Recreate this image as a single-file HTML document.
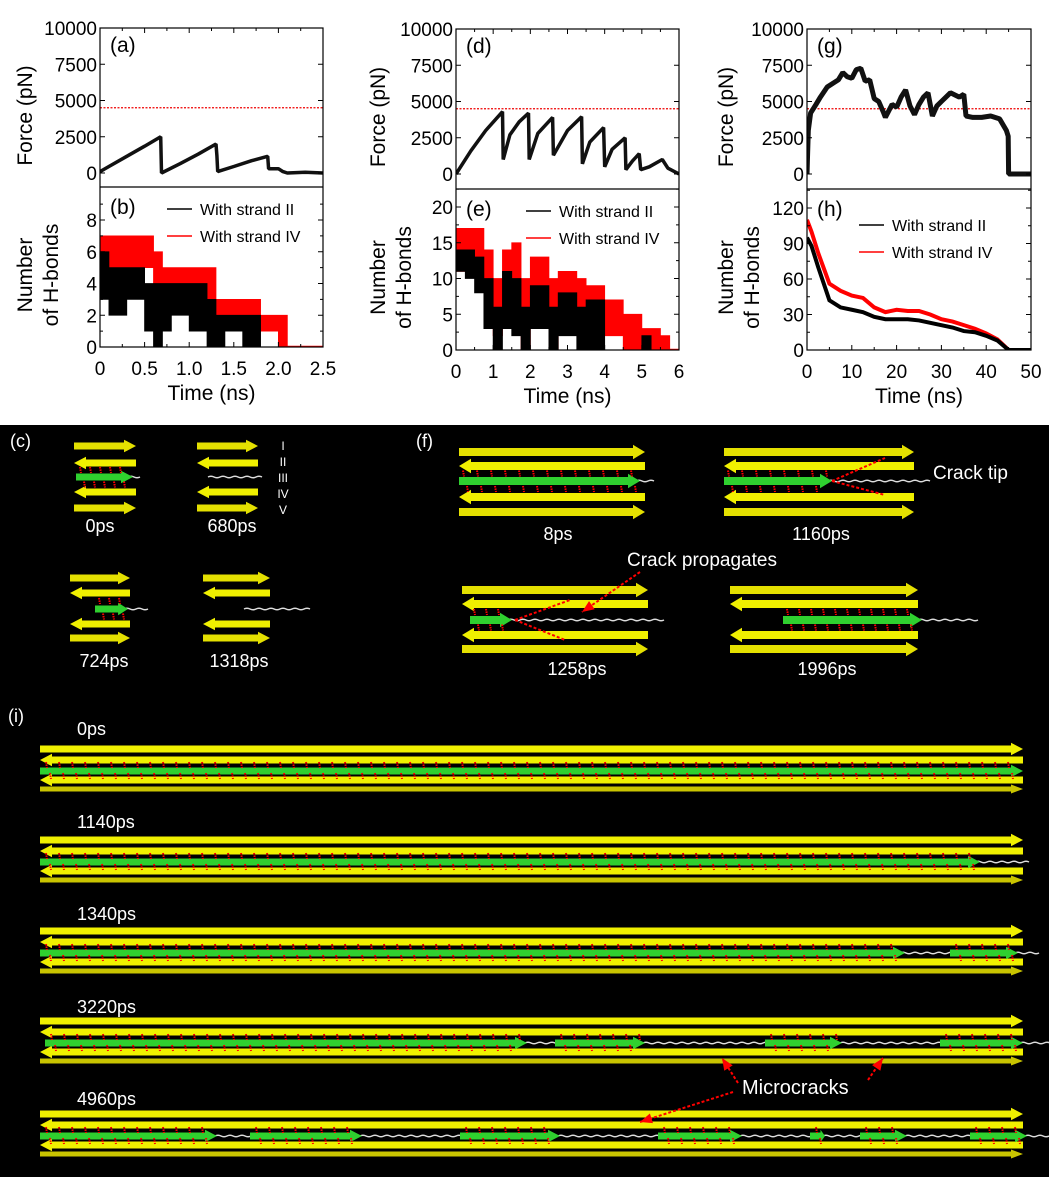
<!DOCTYPE html>
<html><head><meta charset="utf-8"><style>
html,body{margin:0;padding:0;background:#fff}
svg{display:block;font-family:"Liberation Sans",Arial,sans-serif}
</style></head><body>
<svg id="fig" width="1049" height="1177" viewBox="0 0 1049 1177" xmlns="http://www.w3.org/2000/svg">
<rect x="0" y="0" width="1049" height="425" fill="#fff"/>
<rect x="0" y="425" width="1049" height="752" fill="#000"/>
<g id="charts"></g>
<g id="snaps"></g>
</svg>
<script>
// ---------- chart data ----------
const forceATime=[0,0.1,0.3,0.5,0.68,0.69,0.9,1.1,1.3,1.31,1.32,1.5,1.7,1.88,1.89,2.0,2.05,2.1,2.3,2.5];
const forceAVal=[100,450,1150,1850,2500,0,650,1300,2000,1200,100,450,850,1150,300,300,100,0,50,0];
const hbBTimes=[0,0.1,0.2,0.3,0.4,0.5,0.6,0.7,0.8,0.9,1.0,1.1,1.2,1.3,1.4,1.5,1.6,1.7,1.8,1.9,2.0,2.1,2.5];
const hbBRedHi=[7,7,7,7,7,7,6,5,5,5,5,5,5,3,3,3,3,3,2,2,2,0];
const hbBRedLo=[4,5,5,5,5,5,4,2,3,3,3,3,2,1,1,1,1,1,1,1,0,0];
const hbBBlackHi=[6,5,5,5,5,4,4,4,4,4,4,4,3,2,2,2,2,2,0,0,0,0];
const hbBBlackLo=[3,2,2,3,3,1,0,1,2,2,1,1,0,0,1,1,0,0,0,0,0,0];
const forceDTime=[0,0.4,0.8,1.25,1.27,1.45,1.7,1.95,1.97,2.2,2.6,2.62,3.0,3.38,3.4,3.6,3.97,4.0,4.2,4.55,4.57,4.75,4.93,4.97,5.2,5.55,5.7,6.0];
const forceDVal=[0,1600,3000,4300,1000,2700,3600,4200,1000,2800,3900,1300,3000,3950,700,2200,3200,500,1700,2500,300,900,1400,300,500,1000,400,0];
const hbETimes=[0,0.25,0.5,0.75,1,1.25,1.5,1.75,2,2.25,2.5,2.75,3,3.25,3.5,3.75,4,4.25,4.5,4.75,5,5.25,5.5,5.75,6];
const hbERedHi=[17,17,17,14,10,14,15,10,13,13,10,11,11,10,9,9,7,7,5,5,3,3,2,0];
const hbERedLo=[11,12,12,8,2,5,7,0,6,5,0,4,4,2,3,3,2,2,0,0,0,0,0,0];
const hbEBlackHi=[14,14,13,10,6,11,10,6,9,9,6,8,8,6,7,7,0,0,0,0,2,0,0,0];
const hbEBlackLo=[11,10,8,3,0,3,2,0,3,3,0,2,2,0,0,0,0,0,0,0,0,0,0,0];
const forceGTime=[0,0.3,0.8,2,3,4.5,6,7,8,9,10,11,12,13,14,15,16,17,17.5,19,20,21,22,23,24,25,26,27,28,29,30,32,34,35,35.5,37,39,41,43,44.5,44.9,45,47,50];
const forceGVal=[0,3000,4200,4800,5300,6000,6300,6500,7000,6700,6600,7200,7300,6400,6500,5200,5000,4300,3900,4800,4600,5300,5800,4700,4100,4800,5300,5600,4000,4700,5000,5600,5300,5500,4000,3900,3900,4000,3800,3000,2600,0,0,0];
const hbHTimes=[0,1,2.5,5,7.5,10,12.5,15,17.5,20,22.5,25,27.5,30,32.5,35,37.5,40,42.5,45,50];
const hbHRed=[110,100,82,56,50,46,44,36,32,34,33,33,30,26,24,21,18,14,9,0,0];
const hbHBlack=[95,88,70,42,36,34,32,28,26,26,26,25,23,21,19,16,15,12,8,0,0];
const forceTicks=[0,2500,5000,7500,10000];
const forceThreshold=4500;
const xTicksA=[0,0.5,1.0,1.5,2.0,2.5];
const xTicksD=[0,1,2,3,4,5,6];
const xTicksG=[0,10,20,30,40,50];
const yTicksB=[0,2,4,6,8];
const yTicksE=[0,5,10,15,20];
const yTicksH=[0,30,60,90,120];

const NS="http://www.w3.org/2000/svg";
function mk(parent,tag,attrs,text){const e=document.createElementNS(NS,tag);for(const k in attrs)e.setAttribute(k,attrs[k]);if(text!==undefined)e.textContent=text;parent.appendChild(e);return e;}
function lin(d0,d1,r0,r1){return v=>r0+(v-d0)/(d1-d0)*(r1-r0);}
const charts=document.getElementById('charts');

function panel(cfg){
  const g=mk(charts,'g',{});
  
  
  const X=lin(cfg.tmin,cfg.tmax,cfg.x0,cfg.x1);
  const FY=lin(0,10000,cfg.f0,cfg.f10k);
  const HY=lin(0,cfg.hRef,cfg.bot,cfg.hRefPx);
  const ttl=cfg.topPx,div=cfg.div,bot=cfg.bot;
  // clip paths
  const cid=cfg.name+'-clipF',cid2=cfg.name+'-clipH';
  const defs=mk(g,'defs',{});
  const c1=mk(defs,'clipPath',{id:cid});mk(c1,'rect',{x:cfg.x0,y:ttl,width:cfg.x1-cfg.x0,height:div-ttl});
  const c2=mk(defs,'clipPath',{id:cid2});mk(c2,'rect',{x:cfg.x0,y:div,width:cfg.x1-cfg.x0,height:bot-div});
  // force threshold
  const th=mk(g,'line',{x1:cfg.x0,x2:cfg.x1,y1:FY(forceThreshold),y2:FY(forceThreshold),stroke:'#e00','stroke-width':1.3,'stroke-dasharray':'2,1.5'});
  
  
  // force series
  let pts=cfg.fT.map((t,i)=>X(t).toFixed(1)+','+FY(cfg.fV[i]).toFixed(1)).join(' ');
  const fl=mk(g,'polyline',{points:pts,fill:'none',stroke:'#111','stroke-width':cfg.fw,'stroke-linejoin':'bevel','clip-path':'url(#'+cid+')'});
  
  
  // hbonds
  if(cfg.hMode==='band'){
    const band=(T,hi,lo,col,nm)=>{
      let up=[],dn=[];
      for(let i=0;i<hi.length;i++){up.push(X(T[i])+','+HY(hi[i]));up.push(X(T[i+1])+','+HY(hi[i]));}
      for(let i=lo.length-1;i>=0;i--){dn.push(X(T[i+1])+','+HY(lo[i]));dn.push(X(T[i])+','+HY(lo[i]));}
      const p=mk(g,'polygon',{points:up.concat(dn).join(' '),fill:col,stroke:col,'stroke-width':0.8,'clip-path':'url(#'+cid2+')'});
      
      
    };
    band(cfg.hT,cfg.rHi,cfg.rLo,'#f00','hbond-strand-iv');
    band(cfg.hT,cfg.bHi,cfg.bLo,'#000','hbond-strand-ii');
    const z=mk(g,'line',{x1:X(cfg.hEnd),x2:cfg.x1,y1:bot-0.5,y2:bot-0.5,stroke:'#f00','stroke-width':1.5});
    
    
  } else {
    const ln=(V,col,nm)=>{
      const p=mk(g,'polyline',{points:cfg.hT.map((t,i)=>X(t)+','+HY(V[i])).join(' '),fill:'none',stroke:col,'stroke-width':4,'clip-path':'url(#'+cid2+')'});
      
      
    };
    ln(cfg.rV,'#f00','hbond-strand-iv');
    ln(cfg.bV,'#000','hbond-strand-ii');
  }
  // frame
  mk(g,'rect',{x:cfg.x0,y:ttl,width:cfg.x1-cfg.x0,height:bot-ttl,fill:'none',stroke:'#000','stroke-width':1.2});
  mk(g,'line',{x1:cfg.x0,x2:cfg.x1,y1:div,y2:div,stroke:'#000','stroke-width':1.2});
  // x ticks
  const xs=cfg.xTicks;
  for(let i=0;i<xs.length;i++){
    const x=X(xs[i]);
    mk(g,'line',{x1:x,x2:x,y1:bot,y2:bot-5,stroke:'#000'});
    mk(g,'line',{x1:x,x2:x,y1:ttl,y2:ttl+5,stroke:'#000'});
    const tl=mk(g,'text',{x:x,y:bot+28,'font-size':19,'text-anchor':'middle'},cfg.xFmt(xs[i]));
    
    
    if(i<xs.length-1){const xm=X((xs[i]+xs[i+1])/2);
      mk(g,'line',{x1:xm,x2:xm,y1:bot,y2:bot-3,stroke:'#000'});mk(g,'line',{x1:xm,x2:xm,y1:ttl,y2:ttl+3,stroke:'#000'});}
  }
  // force ticks
  forceTicks.forEach(v=>{const y=FY(v);
    mk(g,'line',{x1:cfg.x0,x2:cfg.x0+5,y1:y,y2:y,stroke:'#000'});
    mk(g,'line',{x1:cfg.x1,x2:cfg.x1-5,y1:y,y2:y,stroke:'#000'});
    const tl=mk(g,'text',{x:cfg.x0-3,y:y+7,'font-size':19,'text-anchor':'end'},String(v));
    
    
  });
  // hbond ticks
  const ht=cfg.hTicks;
  ht.forEach((v,i)=>{const y=HY(v);
    mk(g,'line',{x1:cfg.x0,x2:cfg.x0+5,y1:y,y2:y,stroke:'#000'});
    mk(g,'line',{x1:cfg.x1,x2:cfg.x1-5,y1:y,y2:y,stroke:'#000'});
    const tl=mk(g,'text',{x:cfg.x0-3,y:y+7,'font-size':19,'text-anchor':'end'},String(v));
    
    
    const ym=HY(v+(ht[1]-ht[0])/2);
    if(ym>div){mk(g,'line',{x1:cfg.x0,x2:cfg.x0+3,y1:ym,y2:ym,stroke:'#000'});mk(g,'line',{x1:cfg.x1,x2:cfg.x1-3,y1:ym,y2:ym,stroke:'#000'});}
  });
  // titles
  const fx=cfg.titleX;
  const ft=mk(g,'text',{x:0,y:0,'font-size':21,'text-anchor':'middle',transform:`translate(${fx},${(ttl+div)/2+8}) rotate(-90)`},'Force (pN)');
  
  
  const n1=mk(g,'text',{x:0,y:0,'font-size':21,'text-anchor':'middle',transform:`translate(${fx},${(div+bot)/2+8}) rotate(-90)`},'Number');
  
  
  mk(g,'text',{x:0,y:0,'font-size':21,'text-anchor':'middle',transform:`translate(${fx+26},${(div+bot)/2+8}) rotate(-90)`},'of H-bonds');
  const xt=mk(g,'text',{x:(cfg.x0+cfg.x1)/2,y:bot+53,'font-size':21,'text-anchor':'middle'},'Time (ns)');
  
  
  // panel letters
  mk(g,'text',{x:cfg.x0+10,y:ttl+24,'font-size':21},cfg.l1);
  mk(g,'text',{x:cfg.x0+10,y:div+27,'font-size':21},cfg.l2);
  // legend
  const L=cfg.leg;
  [['#000','With strand II',0],['#f00','With strand IV',27]].forEach(([c,t,dy])=>{
    const le=mk(g,'g',{});
    
    
    mk(le,'line',{x1:L[0],x2:L[0]+25,y1:L[1]+dy,y2:L[1]+dy,stroke:c,'stroke-width':1.6});
    mk(le,'text',{x:L[0]+33,y:L[1]+dy+6,'font-size':16},t);
  });
}
panel({name:'panel-a-b',x0:100,x1:323,tmin:0,tmax:2.5,topPx:28,div:187,bot:347,f0:173,f10k:28,hRef:8,hRefPx:220,
  fT:forceATime,fV:forceAVal,fw:3.5,hMode:'band',hT:hbBTimes,rHi:hbBRedHi,rLo:hbBRedLo,bHi:hbBBlackHi,bLo:hbBBlackLo,hEnd:2.1,
  xTicks:xTicksA,xFmt:v=>v===0?'0':v.toFixed(1),hTicks:yTicksB,titleX:32,l1:'(a)',l2:'(b)',leg:[167,209]});
panel({name:'panel-d-e',x0:456,x1:679,tmin:0,tmax:6,topPx:29,div:189,bot:350,f0:174,f10k:29,hRef:20,hRefPx:207,
  fT:forceDTime,fV:forceDVal,fw:3.5,hMode:'band',hT:hbETimes,rHi:hbERedHi,rLo:hbERedLo,bHi:hbEBlackHi,bLo:hbEBlackLo,hEnd:5.6,
  xTicks:xTicksD,xFmt:v=>String(v),hTicks:yTicksE,titleX:385,l1:'(d)',l2:'(e)',leg:[526,211]});
panel({name:'panel-g-h',x0:807,x1:1031,tmin:0,tmax:50,topPx:29,div:189,bot:350,f0:174,f10k:29,hRef:120,hRefPx:208,
  fT:forceGTime,fV:forceGVal,fw:5,hMode:'line',hT:hbHTimes,rV:hbHRed,bV:hbHBlack,
  xTicks:xTicksG,xFmt:v=>String(v),hTicks:yTicksH,titleX:733,l1:'(g)',l2:'(h)',leg:[859,225]});

// ---------- snapshots ----------
const S=document.getElementById('snaps');
const Y1='#f0f000',Y2='#c9c400',GR='#2fd02f';
function strand(p,x1,x2,y,h,dir,col){
  const hl=Math.min(12,(x2-x1)*0.3),hh=h*0.9;
  let pts;
  if(dir>0)pts=[[x1,y-h/2],[x2-hl,y-h/2],[x2-hl,y-hh],[x2,y],[x2-hl,y+hh],[x2-hl,y+h/2],[x1,y+h/2]];
  else pts=[[x2,y-h/2],[x1+hl,y-h/2],[x1+hl,y-hh],[x1,y],[x1+hl,y+hh],[x1+hl,y+h/2],[x2,y+h/2]];
  return mk(p,'polygon',{points:pts.map(q=>q.join(',')).join(' '),fill:col});
}
function wave(p,x1,x2,y,amp){let d='M'+x1+','+y;for(let x=x1;x<x2;x+=6){d+=' Q'+(x+3)+','+(y+(((x-x1)/6)%2?amp:-amp))+' '+(x+6)+','+y;}
  return mk(p,'path',{d:d,fill:'none',stroke:'#ddd','stroke-width':1.5});}
function hb(p,x1,x2,y,step){for(let x=x1;x<x2;x+=step){mk(p,'line',{x1:x,x2:x+1,y1:y-3,y2:y+3,stroke:'#f00','stroke-width':2,'stroke-dasharray':'1.5,1'});}}
function txt(x,y,s,t,anchor,nm){const e=mk(S,'text',{x:x,y:y,'font-size':s,fill:'#fff','text-anchor':anchor||'middle'},t);
  
  return e;}
txt(10,447,18,'(c)','start','panel-label-c');
txt(416,447,18,'(f)','start','panel-label-f');
txt(8,722,18,'(i)','start','panel-label-i');
// small group helper
function group(nm,x1,x2,ys,greenSeg,whiteSeg,hbonds,h){
  const g=mk(S,'g',{});
  
  
  const dirs=[1,-1,1,-1,1];
  ys.forEach((y,i)=>{if(i===2)return;strand(g,x1,x2,y,h,dirs[i],i===4||i===0?'#e4e000':Y1);});
  if(whiteSeg)wave(g,whiteSeg[0],whiteSeg[1],ys[2],1.5);
  if(greenSeg)strand(g,greenSeg[0],greenSeg[1],ys[2],h,1,GR);
  if(hbonds&&greenSeg){hb(g,greenSeg[0]+4,greenSeg[1]-4,(ys[1]+ys[2])/2,hbonds);hb(g,greenSeg[0]+8,greenSeg[1]-4,(ys[2]+ys[3])/2,hbonds);}
  return g;
}
group('snapshot-0ps',74,136,[446,463,477,492,508],[76,133],[128,140],10,7);
group('snapshot-680ps',197,258,[446,463,477,492,508],null,[208,262],0,7);
group('snapshot-724ps',70,130,[578,593,609,624,638],[95,128],[124,148],10,7);
group('snapshot-1318ps',203,270,[578,593,609,624,638],null,[244,308],0,7);
['I','II','III','IV','V'].forEach((r,i)=>txt(283,450+i*16,12,r,'middle','strand-roman-'+r));
txt(100,532,18,'0ps');txt(232,532,18,'680ps');txt(104,667,18,'724ps');txt(239,667,18,'1318ps');
group('snapshot-8ps',459,645,[452,466,481,497,512],[459,640],[636,650],14,8);
group('snapshot-1160ps',724,914,[452,466,481,497,512],[724,832],[828,925],14,8);
group('snapshot-1258ps',462,648,[590,604,620,635,649],[470,512],[508,664],12,8);
group('snapshot-1996ps',730,918,[590,604,620,635,649],[783,922],[918,973],12,8);
txt(558,540,18,'8ps');txt(821,540,18,'1160ps');txt(577,675,18,'1258ps');txt(827,675,18,'1996ps');
txt(933,479,19,'Crack tip','start','crack-tip-label');
txt(627,566,19,'Crack propagates','start','crack-propagates-label');
function dash(x1,y1,x2,y2,arrow){const l=mk(S,'line',{x1:x1,y1:y1,x2:x2,y2:y2,stroke:'#f00','stroke-width':2,'stroke-dasharray':'3,2'});
  if(arrow){const a=Math.atan2(y2-y1,x2-x1),L=12,W=5;
    const p=[[x2,y2],[x2-L*Math.cos(a)+W*Math.sin(a),y2-L*Math.sin(a)-W*Math.cos(a)],[x2-L*Math.cos(a)-W*Math.sin(a),y2-L*Math.sin(a)+W*Math.cos(a)]];
    mk(S,'polygon',{points:p.map(q=>q.join(',')).join(' '),fill:'#f00'});}}
dash(832,481,885,458);dash(832,481,885,495);
dash(515,620,570,600);dash(515,620,565,640);
dash(640,572,582,612,true);
// panel (i)
function longGroup(nm,y0,greens,whites){
  const g=mk(S,'g',{});
  
  
  const ys=[y0,y0+11,y0+22,y0+31,y0+40],dirs=[1,-1,1,-1,1];
  ys.forEach((y,i)=>{if(i===2)return;strand(g,40,1023,y,i===4?5:7,dirs[i],i===4?Y2:Y1);});
  whites.forEach(w=>wave(g,w[0],w[1],ys[2],1.5));
  greens.forEach(s=>{strand(g,s[0],s[1],ys[2],7,1,GR);hb(g,s[0]+6,s[1]-4,y0+16,13);hb(g,s[0]+10,s[1]-4,y0+27,13);});
}
longGroup('snapshot-i-0ps',749,[[40,1023]],[]);
longGroup('snapshot-i-1140ps',840,[[40,980]],[[975,1027]]);
longGroup('snapshot-i-1340ps',931,[[40,905],[950,1018]],[[900,955],[1015,1037]]);
longGroup('snapshot-i-3220ps',1021,[[45,527],[555,645],[765,842],[940,1023]],[[525,557],[643,767],[840,942],[1020,1049]]);
longGroup('snapshot-i-4960ps',1114,[[40,217],[250,362],[460,560],[658,742],[810,825],[860,907],[970,1027]],[[215,252],[360,462],[558,660],[740,812],[823,862],[905,972],[1025,1049]]);
txt(77,735,18,'0ps','start');txt(77,828,18,'1140ps','start');txt(77,920,18,'1340ps','start');
txt(77,1013,18,'3220ps','start');txt(77,1105,18,'4960ps','start');
txt(742,1094,20,'Microcracks','start','microcracks-label');
dash(738,1083,722,1058,true);dash(868,1080,883,1058,true);dash(733,1092,640,1122,true);
</script>
</body></html>
